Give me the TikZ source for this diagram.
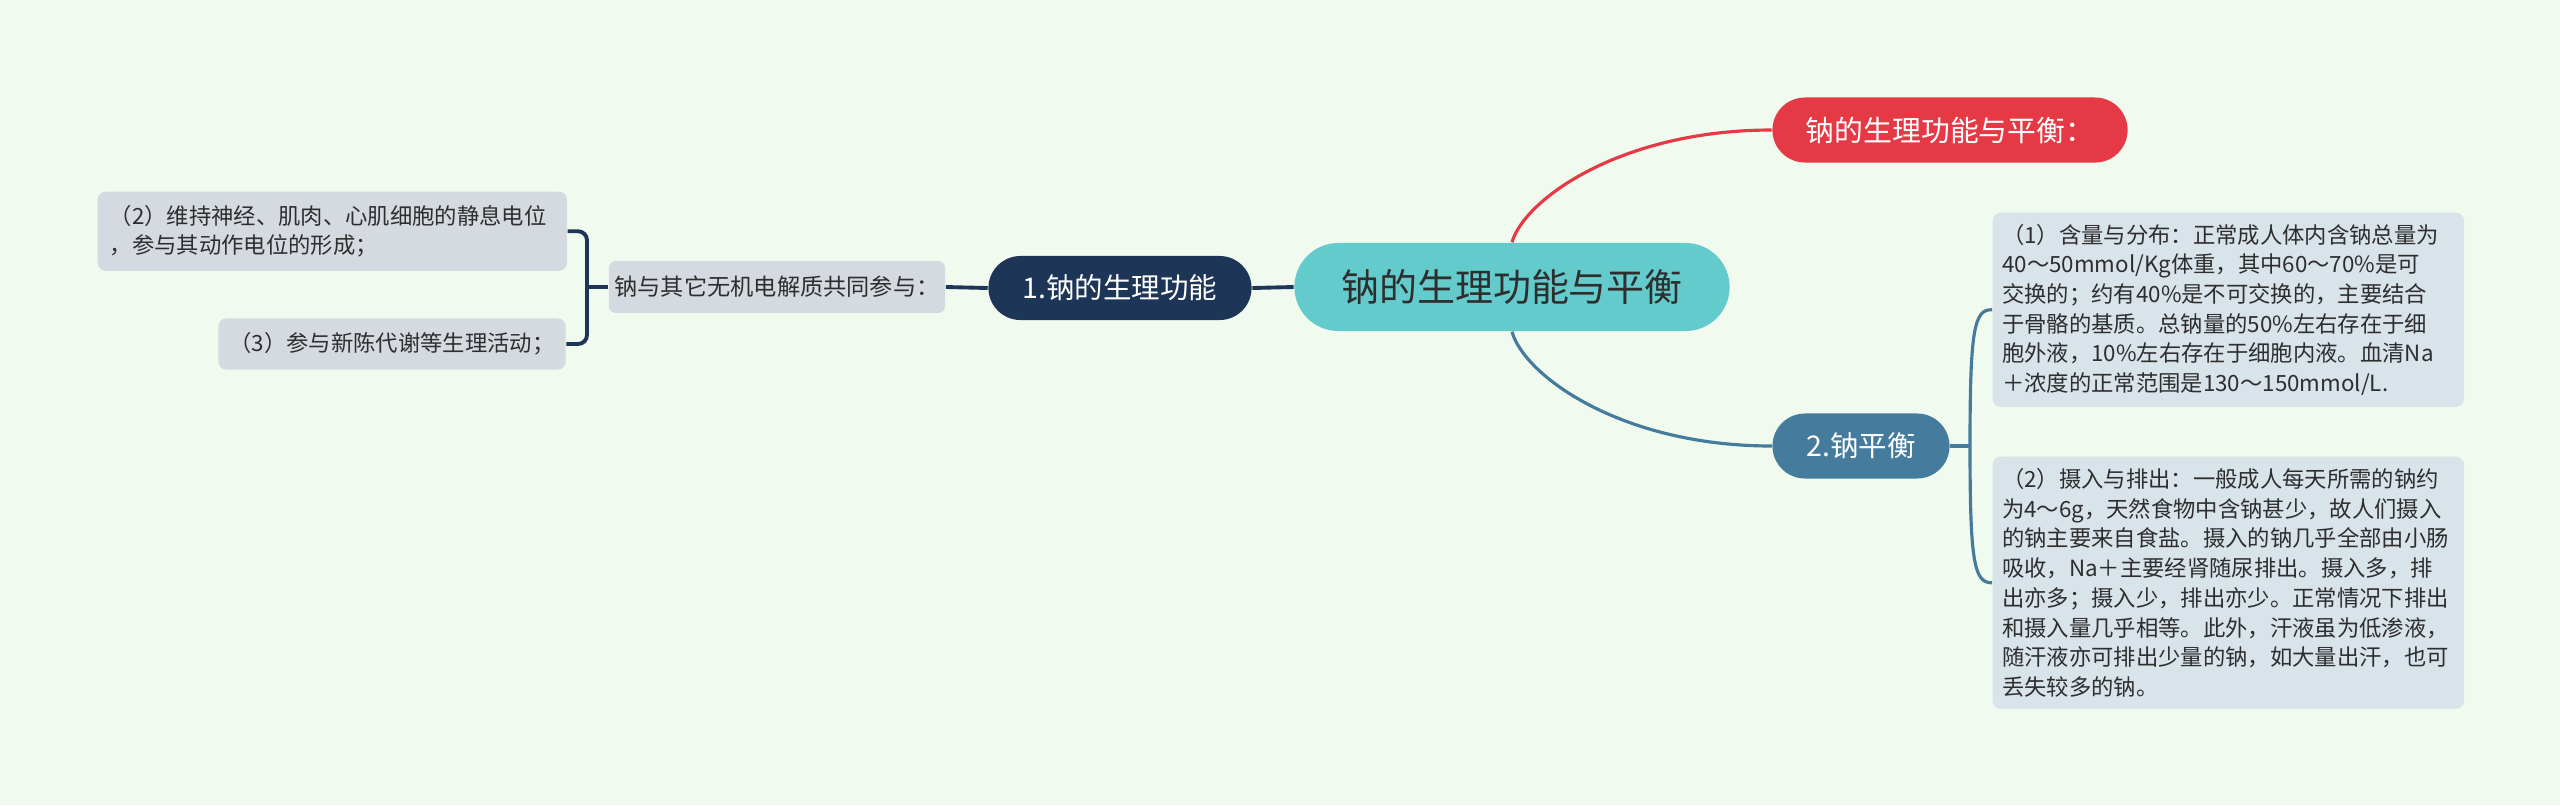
\documentclass[tikz,border=0pt]{standalone}
\usepackage{fontspec}
\setmainfont{Noto Sans CJK SC}
\usepackage{tikz}
\usetikzlibrary{shapes.misc, positioning}
\definecolor{bgmint}{HTML}{F1FAEE}
\definecolor{rootteal}{HTML}{63CBCC}
\definecolor{myred}{HTML}{E63946}
\definecolor{mynavy}{HTML}{1D3557}
\definecolor{mysteel}{HTML}{457B9D}
\definecolor{leafgray}{HTML}{D5D9E0}
\definecolor{leafblue}{HTML}{D9E3EA}
\definecolor{darktext}{HTML}{2E2E2E}
\tikzset{
	rootnode/.style={
			shape=rounded rectangle,
			fill=rootteal,
			text=darktext,
			minimum width=4.35cm,
			minimum height=0.88cm,
			inner sep=0pt,
			font=\fontsize{10.8pt}{13pt}\selectfont
		},
	pillnode/.style={
			shape=rounded rectangle,
			text=white,
			minimum height=0.65cm,
			inner sep=0pt,
			font=\fontsize{8.1pt}{10pt}\selectfont
		},
	labelnode/.style={
			shape=rectangle,
			rounded corners=0.07cm,
			fill=leafgray,
			text=darktext,
			inner sep=0pt,
			font=\fontsize{6.6pt}{9pt}\selectfont
		},
	leafnode/.style={
			shape=rectangle,
			rounded corners=0.08cm,
			text=darktext,
			align=left,
			inner ysep=0pt,
			font=\fontsize{6.35pt}{8.45pt}\selectfont
		}
}
\tikzset{
	navyline/.style={draw=mynavy, line width=1.1pt},
	steelline/.style={draw=mysteel, line width=0.9pt}
}

\begin{document}
\begin{tikzpicture}[x=0.01cm, y=-0.01cm]

  \fill[bgmint] (0,0) rectangle (2560,805);

  \node[rootnode] (root) at (1512,287) {钠的生理功能与平衡};
  \node[pillnode, fill=myred, minimum width=3.55cm, font=\fontsize{8.2pt}{10pt}\selectfont] (topic) at (1950,130) {钠的生理功能与平衡：};
  \node[pillnode, fill=mynavy, minimum width=2.63cm, minimum height=0.64cm] (func) at (1120,288) {1.钠的生理功能};
  \node[pillnode, fill=mysteel, minimum width=1.77cm] (bal) at (1861,446) {2.钠平衡};

  \node[labelnode, minimum width=3.36cm, minimum height=0.52cm] (part) at (777,287) {钠与其它无机电解质共同参与：};

  \node[leafnode, fill=leafgray, anchor=north west, text width=4.45cm, inner xsep=0.12cm, minimum height=0.79cm] (f2) at (97,191)
    {（2）维持神经、肌肉、心肌细胞的静息电位\\，参与其动作电位的形成；};
  \node[leafnode, fill=leafgray, minimum width=3.47cm, minimum height=0.51cm, inner xsep=0pt] (f3) at (392,344)
    {（3）参与新陈代谢等生理活动；};

  \node[leafnode, fill=leafblue, anchor=north west, text width=4.52cm, inner xsep=0.095cm, minimum height=1.94cm] (b1) at (1992,212)
    {（1）含量与分布：正常成人体内含钠总量为\\40～50mmol/Kg体重，其中60～70\%是可\\交换的；约有40\%是不可交换的，主要结合\\于骨骼的基质。总钠量的50\%左右存在于细\\胞外液，10\%左右存在于细胞内液。血清Na\\＋浓度的正常范围是130～150mmol/L.};
  \node[leafnode, fill=leafblue, anchor=north west, text width=4.52cm, inner xsep=0.095cm, minimum height=2.52cm] (b2) at (1992,456)
    {（2）摄入与排出：一般成人每天所需的钠约\\为4～6g，天然食物中含钠甚少，故人们摄入\\的钠主要来自食盐。摄入的钠几乎全部由小肠\\吸收，Na＋主要经肾随尿排出。摄入多，排\\出亦多；摄入少，排出亦少。正常情况下排出\\和摄入量几乎相等。此外，汗液虽为低渗液，\\随汗液亦可排出少量的钠，如大量出汗，也可\\丢失较多的钠。};

  \coordinate (lj) at (587,287);
  \coordinate (rj) at (1970,446);

  % root to main branches
  \draw[myred, line width=0.9pt] (root.north) .. controls (1524,200) and (1620,130) .. (topic.west);
  \draw[steelline] (root.south) .. controls (1524,375) and (1620,446) .. (bal.west);
  \draw[navyline] (root.west) -- (func.east);
  \draw[navyline] (func.west) -- (part.east);

  % left bracket
  \draw[navyline] (part.west) -- (lj);
  \draw[navyline, rounded corners=0.09cm] (lj) |- (f2.east);
  \draw[navyline, rounded corners=0.09cm] (lj) |- (f3.east);

  % right bracket
  \draw[steelline] (bal.east) -- (rj);
  \draw[steelline] (rj) .. controls (1970,330) and (1974,309) .. (b1.west);
  \draw[steelline] (rj) .. controls (1970,562) and (1974,583) .. (b2.west);

\end{tikzpicture}
\end{document}
